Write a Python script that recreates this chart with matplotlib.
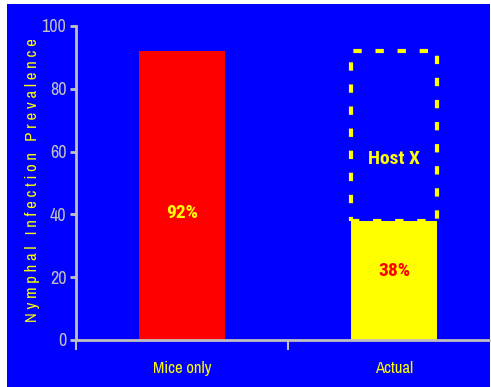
import matplotlib.pyplot as plt
from matplotlib.patches import Rectangle

# Nymphal infection prevalence (%)
categories = ['Mice only', 'Actual']
prevalence = [92, 38]
bar_colors = ['#FF0000', '#FFFF00']
label_colors = ['#FFFF00', '#FF0000']
mice_only_level = 92  # what "Actual" would be without host X
y_ticks = [0, 20, 40, 60, 80, 100]

BLUE = '#0000FF'
GRAY = '#C0C0C0'
YELLOW = '#FFFF00'
NARROW = ['Archivo Narrow', 'DejaVu Sans']
NARROW_BOLD = ['Roboto Condensed', 'Archivo Narrow', 'DejaVu Sans']

fig = plt.figure(figsize=(4.91, 3.87), dpi=100)
fig.patch.set_facecolor('white')
# slide background
bg = Rectangle((7 / 491, 0), 483 / 491, 383 / 387, transform=fig.transFigure,
               facecolor=BLUE, edgecolor='none', zorder=-1)
fig.add_artist(bg)

ax = fig.add_axes([76 / 491, 47 / 387, 414 / 491, 314 / 387])
ax.set_facecolor(BLUE)

x = list(range(len(categories)))
width = 0.41
ax.bar(x, prevalence, width=width, color=bar_colors, zorder=2)

# dashed outline showing the gap attributed to host X
ax.add_patch(Rectangle((x[1] - width / 2, prevalence[1]), width,
                       mice_only_level - prevalence[1], fill=False,
                       edgecolor=YELLOW, linewidth=3,
                       linestyle=(0, (2, 3.3)), zorder=3))

label_y = [40.5, 22]
for xi, val, ly, c in zip(x, prevalence, label_y, label_colors):
    ax.text(xi, ly, '{}%'.format(val), ha='center', va='center', color=c,
            fontsize=14, fontweight='bold', family=NARROW_BOLD, zorder=4)
ax.text(x[1], 57.5, 'Host X', ha='center', va='center', color=YELLOW,
        fontsize=14, fontweight='bold', family=NARROW_BOLD, zorder=4)

ax.set_xlim(-0.5, 1.453)
ax.set_ylim(0, 100)
ax.set_yticks(y_ticks)
ax.set_xticks([-0.5, 0.5])
ax.set_xticklabels([])
ax.tick_params(axis='y', colors=GRAY, length=4, width=2, labelsize=13, pad=3)
ax.tick_params(axis='x', colors=GRAY, length=7, width=1.5)
for lbl in ax.get_yticklabels():
    lbl.set_family(NARROW)
for xi, name in zip(x, categories):
    ax.text(xi, -9, name, ha='center', va='center', color=YELLOW,
            fontsize=12, family=NARROW, clip_on=False)

for side in ['top', 'right']:
    ax.spines[side].set_visible(False)
for side in ['left', 'bottom']:
    ax.spines[side].set_color(GRAY)
    ax.spines[side].set_linewidth(2)

fig.text(33 / 491, 0.535, 'N y m p h a l   I n f e c t i o n   P r e v a l e n c e',
         rotation=90, ha='center', va='center', color=YELLOW, fontsize=12,
         family=NARROW)

fig.savefig('out.png', dpi=100, facecolor=fig.get_facecolor())
